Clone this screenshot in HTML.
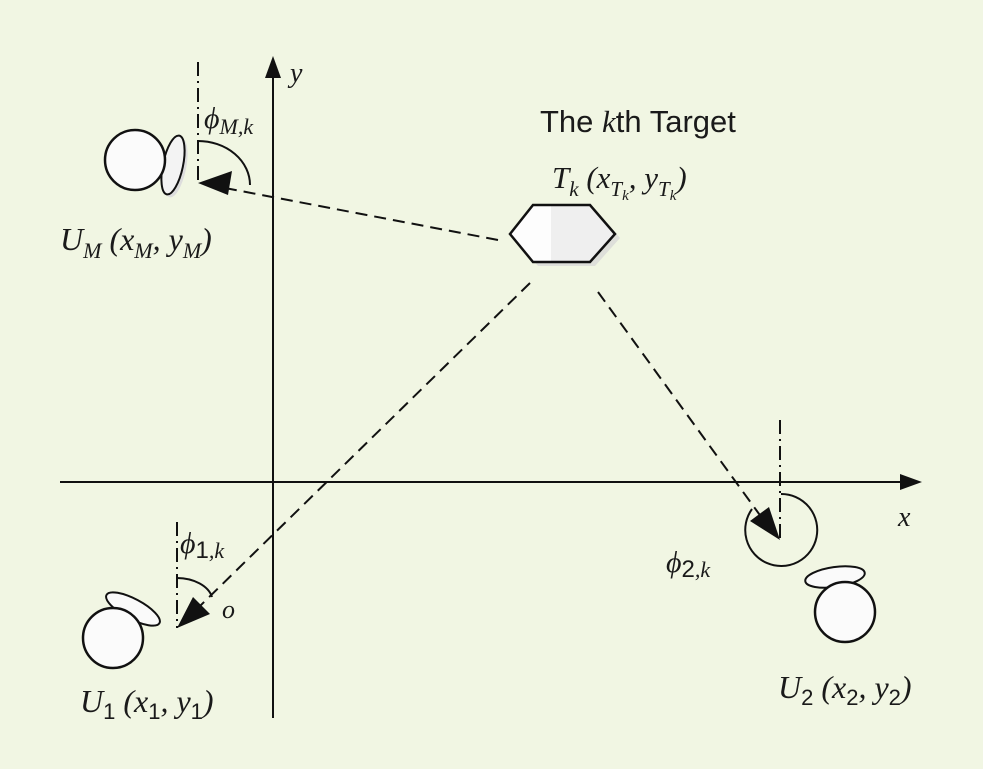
<!DOCTYPE html>
<html><head><meta charset="utf-8"><style>
html,body{margin:0;padding:0;background:#f1f6e3;}
svg{display:block}
.m{font-family:"Liberation Serif",serif;font-style:italic;fill:#1a1a1a}
.s{font-family:"Liberation Sans",sans-serif;fill:#1a1a1a;font-style:normal}
</style></head><body>
<svg width="983" height="769" viewBox="0 0 983 769" xmlns="http://www.w3.org/2000/svg">
<rect width="983" height="769" fill="#f1f6e3"/>
<line x1="273" y1="70" x2="273" y2="718" stroke="#111" stroke-width="2"/>
<polygon points="273,56 265,78 281,78" fill="#111"/>
<line x1="60" y1="482" x2="910" y2="482" stroke="#111" stroke-width="2"/>
<polygon points="922,482 900,474 900,490" fill="#111"/>
<text class="m" x="290" y="82" font-size="28">y</text>
<text class="m" x="898" y="526" font-size="28">x</text>
<g stroke="#111" stroke-width="2" stroke-dasharray="14,5,2,5" fill="none">
<line x1="198" y1="62" x2="198" y2="183"/>
<line x1="177" y1="522" x2="177" y2="628"/>
<line x1="780" y1="420" x2="780" y2="540"/>
</g>
<g stroke="#111" stroke-width="2" fill="none">
<path d="M198,141 A52,44 0 0 1 250,185"/>
<path d="M177,578 A36,24 0 0 1 212,597"/>
<path d="M781,494 A36,36 0 1 1 752,509"/>
</g>
<g stroke="#111" stroke-width="2" stroke-dasharray="12,7" fill="none">
<line x1="498" y1="240" x2="225" y2="188"/>
<line x1="530" y1="283" x2="200" y2="606"/>
<line x1="598" y1="292" x2="762" y2="518"/>
</g>
<polygon points="198,183 232,171 228,195" fill="#111"/>
<polygon points="177,628 193,597 210,614" fill="#111"/>
<polygon points="780,540 750,521 769,507" fill="#111"/>
<polygon points="515,238 538,209 595,209 620,238 595,266 538,266" fill="#d6d6d6" opacity="0.7"/>
<polygon points="510,234 533,205 590,205 615,234 590,262 533,262" fill="#fdfdfd"/>
<polygon points="551,205 590,205 615,234 590,262 551,262" fill="#efefef"/>
<polygon points="510,234 533,205 590,205 615,234 590,262 533,262" fill="none" stroke="#111" stroke-width="2.5"/>
<text class="s" x="540" y="132" font-size="31">The <tspan class="m">k</tspan>th Target</text>
<text class="m" x="552" y="188" font-size="31">T<tspan font-size="21" dy="8">k</tspan><tspan dy="-8"> (x</tspan><tspan font-size="21" dy="8">T</tspan><tspan font-size="15" dy="4">k</tspan><tspan dy="-12">, y</tspan><tspan font-size="21" dy="8">T</tspan><tspan font-size="15" dy="4">k</tspan><tspan dy="-12">)</tspan></text>
<ellipse cx="176" cy="168" rx="10" ry="30" transform="rotate(12 176 168)" fill="#ddd"/>
<ellipse cx="173" cy="165" rx="10" ry="30" transform="rotate(12 173 165)" fill="#f3f3f3" stroke="#111" stroke-width="2"/>
<circle cx="135" cy="160" r="30" fill="#fbfbfb" stroke="#111" stroke-width="2.5"/>
<text class="m" x="60" y="250" font-size="32">U<tspan font-size="22" dy="8">M</tspan><tspan dy="-8"> (x</tspan><tspan font-size="22" dy="8">M</tspan><tspan dy="-8">, y</tspan><tspan font-size="22" dy="8">M</tspan><tspan dy="-8">)</tspan></text>
<text class="m" x="204" y="128" font-size="30">ϕ<tspan font-size="22" dy="6">M,k</tspan></text>
<ellipse cx="133" cy="609" rx="30" ry="10" transform="rotate(28 133 609)" fill="#fafafa" stroke="#111" stroke-width="2"/>
<circle cx="113" cy="638" r="30" fill="#fbfbfb" stroke="#111" stroke-width="2.5"/>
<text class="m" x="80" y="712" font-size="32">U<tspan class="s" font-size="22" dy="7">1</tspan><tspan dy="-7"> (x</tspan><tspan class="s" font-size="22" dy="7">1</tspan><tspan dy="-7">, y</tspan><tspan class="s" font-size="22" dy="7">1</tspan><tspan dy="-7">)</tspan></text>
<text class="m" x="180" y="553" font-size="30">ϕ<tspan class="s" font-size="24" dy="5">1</tspan><tspan font-size="22">,k</tspan></text>
<text class="m" x="222" y="618" font-size="26">o</text>
<ellipse cx="835" cy="577" rx="30" ry="10" transform="rotate(-8 835 577)" fill="#fafafa" stroke="#111" stroke-width="2"/>
<circle cx="845" cy="612" r="30" fill="#fbfbfb" stroke="#111" stroke-width="2.5"/>
<text class="m" x="778" y="698" font-size="32">U<tspan class="s" font-size="22" dy="7">2</tspan><tspan dy="-7"> (x</tspan><tspan class="s" font-size="22" dy="7">2</tspan><tspan dy="-7">, y</tspan><tspan class="s" font-size="22" dy="7">2</tspan><tspan dy="-7">)</tspan></text>
<text class="m" x="666" y="572" font-size="30">ϕ<tspan class="s" font-size="24" dy="5">2</tspan><tspan font-size="22">,k</tspan></text>
</svg>
</body></html>
